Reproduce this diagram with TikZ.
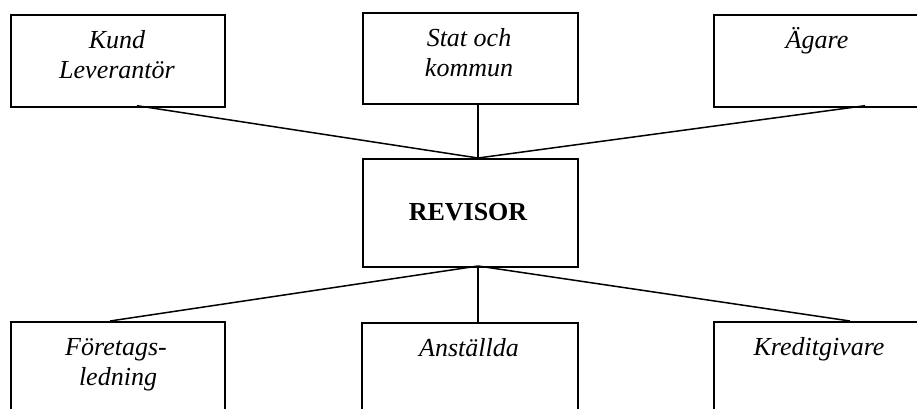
\documentclass[tikz,border=0pt]{standalone}
\usepackage{fontspec}
\setmainfont{Liberation Serif}
\begin{document}
\begin{tikzpicture}[x=1pt,y=-1pt,
  box/.style={draw=black, line width=1.8pt, rectangle, inner sep=0pt, anchor=north west},
  wire/.style={draw=black, line width=1.5pt},
  lbl/.style={inner sep=0pt, anchor=base, font=\fontsize{26}{30}\selectfont\itshape},
  head/.style={inner sep=0pt, anchor=base, font=\fontsize{26}{30}\selectfont\bfseries}]
\useasboundingbox (0,0) rectangle (917,408);
\clip (0,0) rectangle (917,408);

% outer boxes, top row
\node[box, minimum width=214pt, minimum height=91.7pt] (kl) at (10,14) {};
\node[box, minimum width=215pt, minimum height=91.3pt] (sk) at (362,12) {};
\node[box, minimum width=212pt, minimum height=91.7pt] (ag) at (713,14) {};

% central box
\node[box, minimum width=215pt, minimum height=108pt] (rev) at (362,158) {};

% outer boxes, bottom row (run past the lower edge)
\node[box, minimum width=214pt, minimum height=120pt] (fl) at (10,321) {};
\node[box, minimum width=216pt, minimum height=120pt] (an) at (361,321.7) {};
\node[box, minimum width=212pt, minimum height=120pt] (kg) at (713,321) {};

% texts
\node[lbl] (kl1) at (117,48) {Kund};
\node[lbl] (kl2) at (117,78.5) {Leverantör};
\node[lbl] (sk1) at (469,46.7) {Stat och};
\node[lbl] (sk2) at (469,76.7) {kommun};
\node[lbl] (ag1) at (817,48.3) {Ägare};
\node[head] (rev1) at (468,220) {REVISOR};
\node[lbl] (fl1) at (116,355) {Företags-};
\node[lbl] (fl2) at (118,385) {ledning};
\node[lbl] (an1) at (469,356.7) {Anställda};
\node[lbl] (kg1) at (819,355) {Kreditgivare};

% connector end points on the box edges
\coordinate (klp) at (137,105.7);
\coordinate (skp) at (478,103.3);
\coordinate (agp) at (865,105.7);
\coordinate (revt) at (478,158);
\coordinate (revb) at (478,266);
\coordinate (flp) at (110,321);
\coordinate (anp) at (478,321.7);
\coordinate (kgp) at (850,321);

\draw[wire] (klp) -- (revt);
\draw[wire] (skp) -- (revt);
\draw[wire] (agp) -- (revt);
\draw[wire] (revb) -- (flp);
\draw[wire] (revb) -- (anp);
\draw[wire] (revb) -- (kgp);
\end{tikzpicture}
\end{document}
